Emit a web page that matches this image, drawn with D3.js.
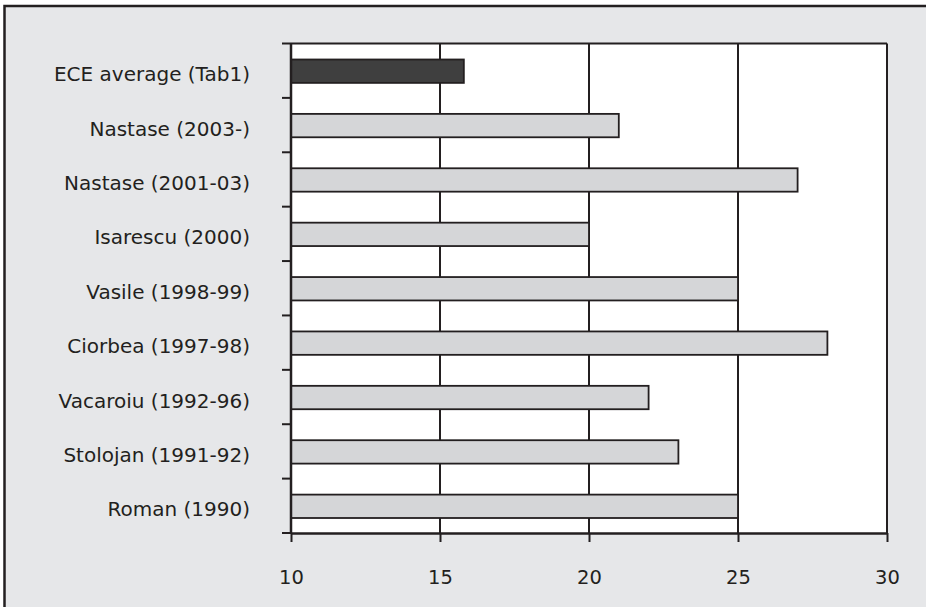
<!DOCTYPE html>
<html>
<head>
<meta charset="utf-8">
<script src="https://cdn.jsdelivr.net/npm/d3@7"></script>
<style>
html,body{margin:0;padding:0;background:#fff;}
svg{display:block;}
text{font-family:"DejaVu Sans",Verdana,sans-serif;fill:#231f20;}
</style>
</head>
<body>
<svg id="chart" width="926" height="607"></svg>
<script>
const categories = ["ECE average (Tab1)","Nastase (2003-)","Nastase (2001-03)","Isarescu (2000)","Vasile (1998-99)","Ciorbea (1997-98)","Vacaroiu (1992-96)","Stolojan (1991-92)","Roman (1990)"];
const values = [15.8, 21, 27, 20, 25, 28, 22, 23, 25];
const xTicks = [10, 15, 20, 25, 30];

const svg = d3.select("#chart");
const W = 926, H = 607;
const m = {left: 291, right: 887, top: 43.5, bottom: 533};
const ink = "#231f20";

// outer frame
svg.append("rect").attr("x",0).attr("y",0).attr("width",W).attr("height",H).attr("fill","#fff");
svg.append("rect").attr("x",4.5).attr("y",6).attr("width",W+20).attr("height",H+20)
  .attr("fill","#e6e7e9").attr("stroke",ink).attr("stroke-width",2.5);

const x = d3.scaleLinear().domain([10,30]).range([m.left, m.right]);
const y = d3.scaleBand().domain(categories).range([m.top, m.bottom]).padding(0);

// plot area
svg.append("rect").attr("x",m.left).attr("y",m.top).attr("width",m.right-m.left).attr("height",m.bottom-m.top).attr("fill","#fff");

// gridlines
svg.append("g").selectAll("line").data(xTicks.slice(1)).join("line")
  .attr("x1",d=>x(d)).attr("x2",d=>x(d)).attr("y1",m.top).attr("y2",m.bottom)
  .attr("stroke",ink).attr("stroke-width",2);
// top border
svg.append("line").attr("x1",m.left).attr("x2",m.right).attr("y1",m.top).attr("y2",m.top)
  .attr("stroke",ink).attr("stroke-width",2);

// bars
const bh = y.bandwidth()*0.43;
svg.append("g").selectAll("rect").data(values).join("rect")
  .attr("x",x(10))
  .attr("y",(d,i)=>y(categories[i]) + y.bandwidth()/2 - bh/2 + 0.5)
  .attr("width",d=>x(d)-x(10))
  .attr("height",bh)
  .attr("fill",(d,i)=>i===0 ? "#3f3f3f" : "#d5d6d8")
  .attr("stroke",ink).attr("stroke-width",1.8);

// x axis
const xAxis = d3.axisBottom(x).tickValues(xTicks).tickSize(9).tickPadding(28).tickSizeOuter(0);
const gx = svg.append("g").attr("transform",`translate(0,${m.bottom})`).call(xAxis);
gx.select(".domain").attr("stroke",ink).attr("stroke-width",2.5);
gx.selectAll(".tick line").attr("stroke",ink).attr("stroke-width",2);
gx.selectAll(".tick text").attr("font-size",19.5).attr("font-family","DejaVu Sans").attr("fill",ink);

// y axis: ticks at band boundaries
const bounds = categories.map(c=>y(c)).concat([m.bottom]);
const gy = svg.append("g");
gy.append("line").attr("x1",m.left).attr("x2",m.left).attr("y1",m.top).attr("y2",m.bottom+1)
  .attr("stroke",ink).attr("stroke-width",2.5);
gy.selectAll("line.tk").data(bounds).join("line").attr("class","tk")
  .attr("x1",m.left-9).attr("x2",m.left).attr("y1",d=>d).attr("y2",d=>d)
  .attr("stroke",ink).attr("stroke-width",2);
gy.selectAll("text").data(categories).join("text")
  .attr("x",250).attr("y",d=>y(d)+y.bandwidth()/2+10.5)
  .attr("text-anchor","end").attr("font-size",20).text(d=>d);
</script>
</body>
</html>
